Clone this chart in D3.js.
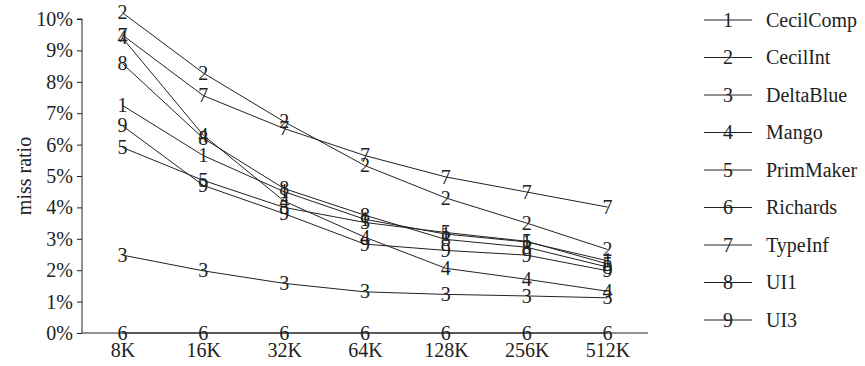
<!DOCTYPE html>
<html>
<head>
<meta charset="utf-8">
<script src="https://cdn.jsdelivr.net/npm/d3@7"></script>
<style>
  body { margin: 0; background: #fff; }
  text { font-family: "Liberation Serif", "DejaVu Serif", serif; fill: #222; }
</style>
</head>
<body>
<script>
// cache sizes on the x axis
const sizes = ['8K', '16K', '32K', '64K', '128K', '256K', '512K'];
// benchmark names, numbered 1..9 in the plot
const names = ['CecilComp', 'CecilInt', 'DeltaBlue', 'Mango', 'PrimMaker', 'Richards', 'TypeInf', 'UI1', 'UI3'];
// miss ratio in percent, one array per benchmark
const cecilComp = [7.25, 5.65, 4.5, 3.62, 3.15, 2.9, 2.3];
const cecilInt = [10.2, 8.28, 6.73, 5.33, 4.3, 3.5, 2.66];
const deltaBlue = [2.48, 1.98, 1.58, 1.31, 1.23, 1.18, 1.12];
const mango = [9.4, 6.3, 4.2, 3.05, 2.06, 1.71, 1.33];
const primMaker = [5.91, 4.86, 4.0, 3.52, 3.2, 2.92, 2.2];
const richards = [0, 0, 0, 0, 0, 0, 0];
const typeInf = [9.49, 7.56, 6.51, 5.65, 4.97, 4.49, 4.01];
const ui1 = [8.58, 6.2, 4.6, 3.75, 2.98, 2.73, 2.1];
const ui3 = [6.6, 4.7, 3.8, 2.83, 2.63, 2.48, 1.98];
const yTicks = [0, 1, 2, 3, 4, 5, 6, 7, 8, 9, 10];

const allSeries = [cecilComp, cecilInt, deltaBlue, mango, primMaker, richards, typeInf, ui1, ui3];

const width = 865;
const height = 366;
const fontSize = '20px';

const svg = d3.select('body').append('svg')
  .attr('width', width)
  .attr('height', height);

// plot box
const plotLeft = 82, plotRight = 648, plotTop = 19, plotBottom = 333;

const x = d3.scalePoint().domain(sizes).range([plotLeft, plotRight]).padding(0.5);
const y = d3.scaleLinear().domain([0, 10]).range([plotBottom, plotTop]);

// y axis
const yAxis = d3.axisLeft(y)
  .tickValues(yTicks)
  .tickSize(5)
  .tickFormat(d => d + '%');
const gy = svg.append('g').attr('transform', `translate(${plotLeft},0)`).call(yAxis);
gy.select('.domain').attr('stroke', '#222').attr('d', `M-5,${y(10)}H0V${plotBottom}`);
gy.selectAll('.tick line').attr('stroke', '#222');
gy.selectAll('.tick text')
  .attr('x', -9)
  .style('font-size', fontSize)
  .style('font-family', '"Liberation Serif", serif')
  .attr('fill', '#222');

// x axis, no tick marks
const xAxis = d3.axisBottom(x).tickSize(0).tickPadding(10);
const gx = svg.append('g').attr('transform', `translate(0,${plotBottom})`).call(xAxis);
gx.select('.domain').attr('stroke', '#222').attr('d', `M${plotLeft},0H${plotRight}`);
gx.selectAll('.tick text')
  .style('font-size', fontSize)
  .style('font-family', '"Liberation Serif", serif')
  .attr('fill', '#222');

svg.append('text')
  .attr('transform', `translate(31,${(plotTop + plotBottom) / 2}) rotate(-90)`)
  .attr('text-anchor', 'middle')
  .style('font-size', fontSize)
  .text('miss ratio');

const line = d3.line()
  .x((d, i) => x(sizes[i]))
  .y(d => y(d));

allSeries.forEach((values, k) => {
  svg.append('path')
    .datum(values)
    .attr('d', line)
    .attr('fill', 'none')
    .attr('stroke', '#222')
    .attr('stroke-width', 1);

  // numbered markers sit on the points
  svg.selectAll(null)
    .data(values)
    .enter()
    .append('text')
    .attr('x', (d, i) => x(sizes[i]))
    .attr('y', d => y(d))
    .attr('dy', '0.33em')
    .attr('text-anchor', 'middle')
    .style('font-size', fontSize)
    .text(k + 1);
});

// legend
const legend = svg.append('g');
names.forEach((name, k) => {
  const ly = 20 + k * 37.5;
  legend.append('line')
    .attr('x1', 704).attr('x2', 752)
    .attr('y1', ly).attr('y2', ly)
    .attr('stroke', '#222');
  legend.append('text')
    .attr('x', 728).attr('y', ly)
    .attr('dy', '0.33em')
    .attr('text-anchor', 'middle')
    .style('font-size', fontSize)
    .text(k + 1);
  legend.append('text')
    .attr('x', 766).attr('y', ly)
    .attr('dy', '0.33em')
    .style('font-size', fontSize)
    .text(name);
});
</script>
</body>
</html>
